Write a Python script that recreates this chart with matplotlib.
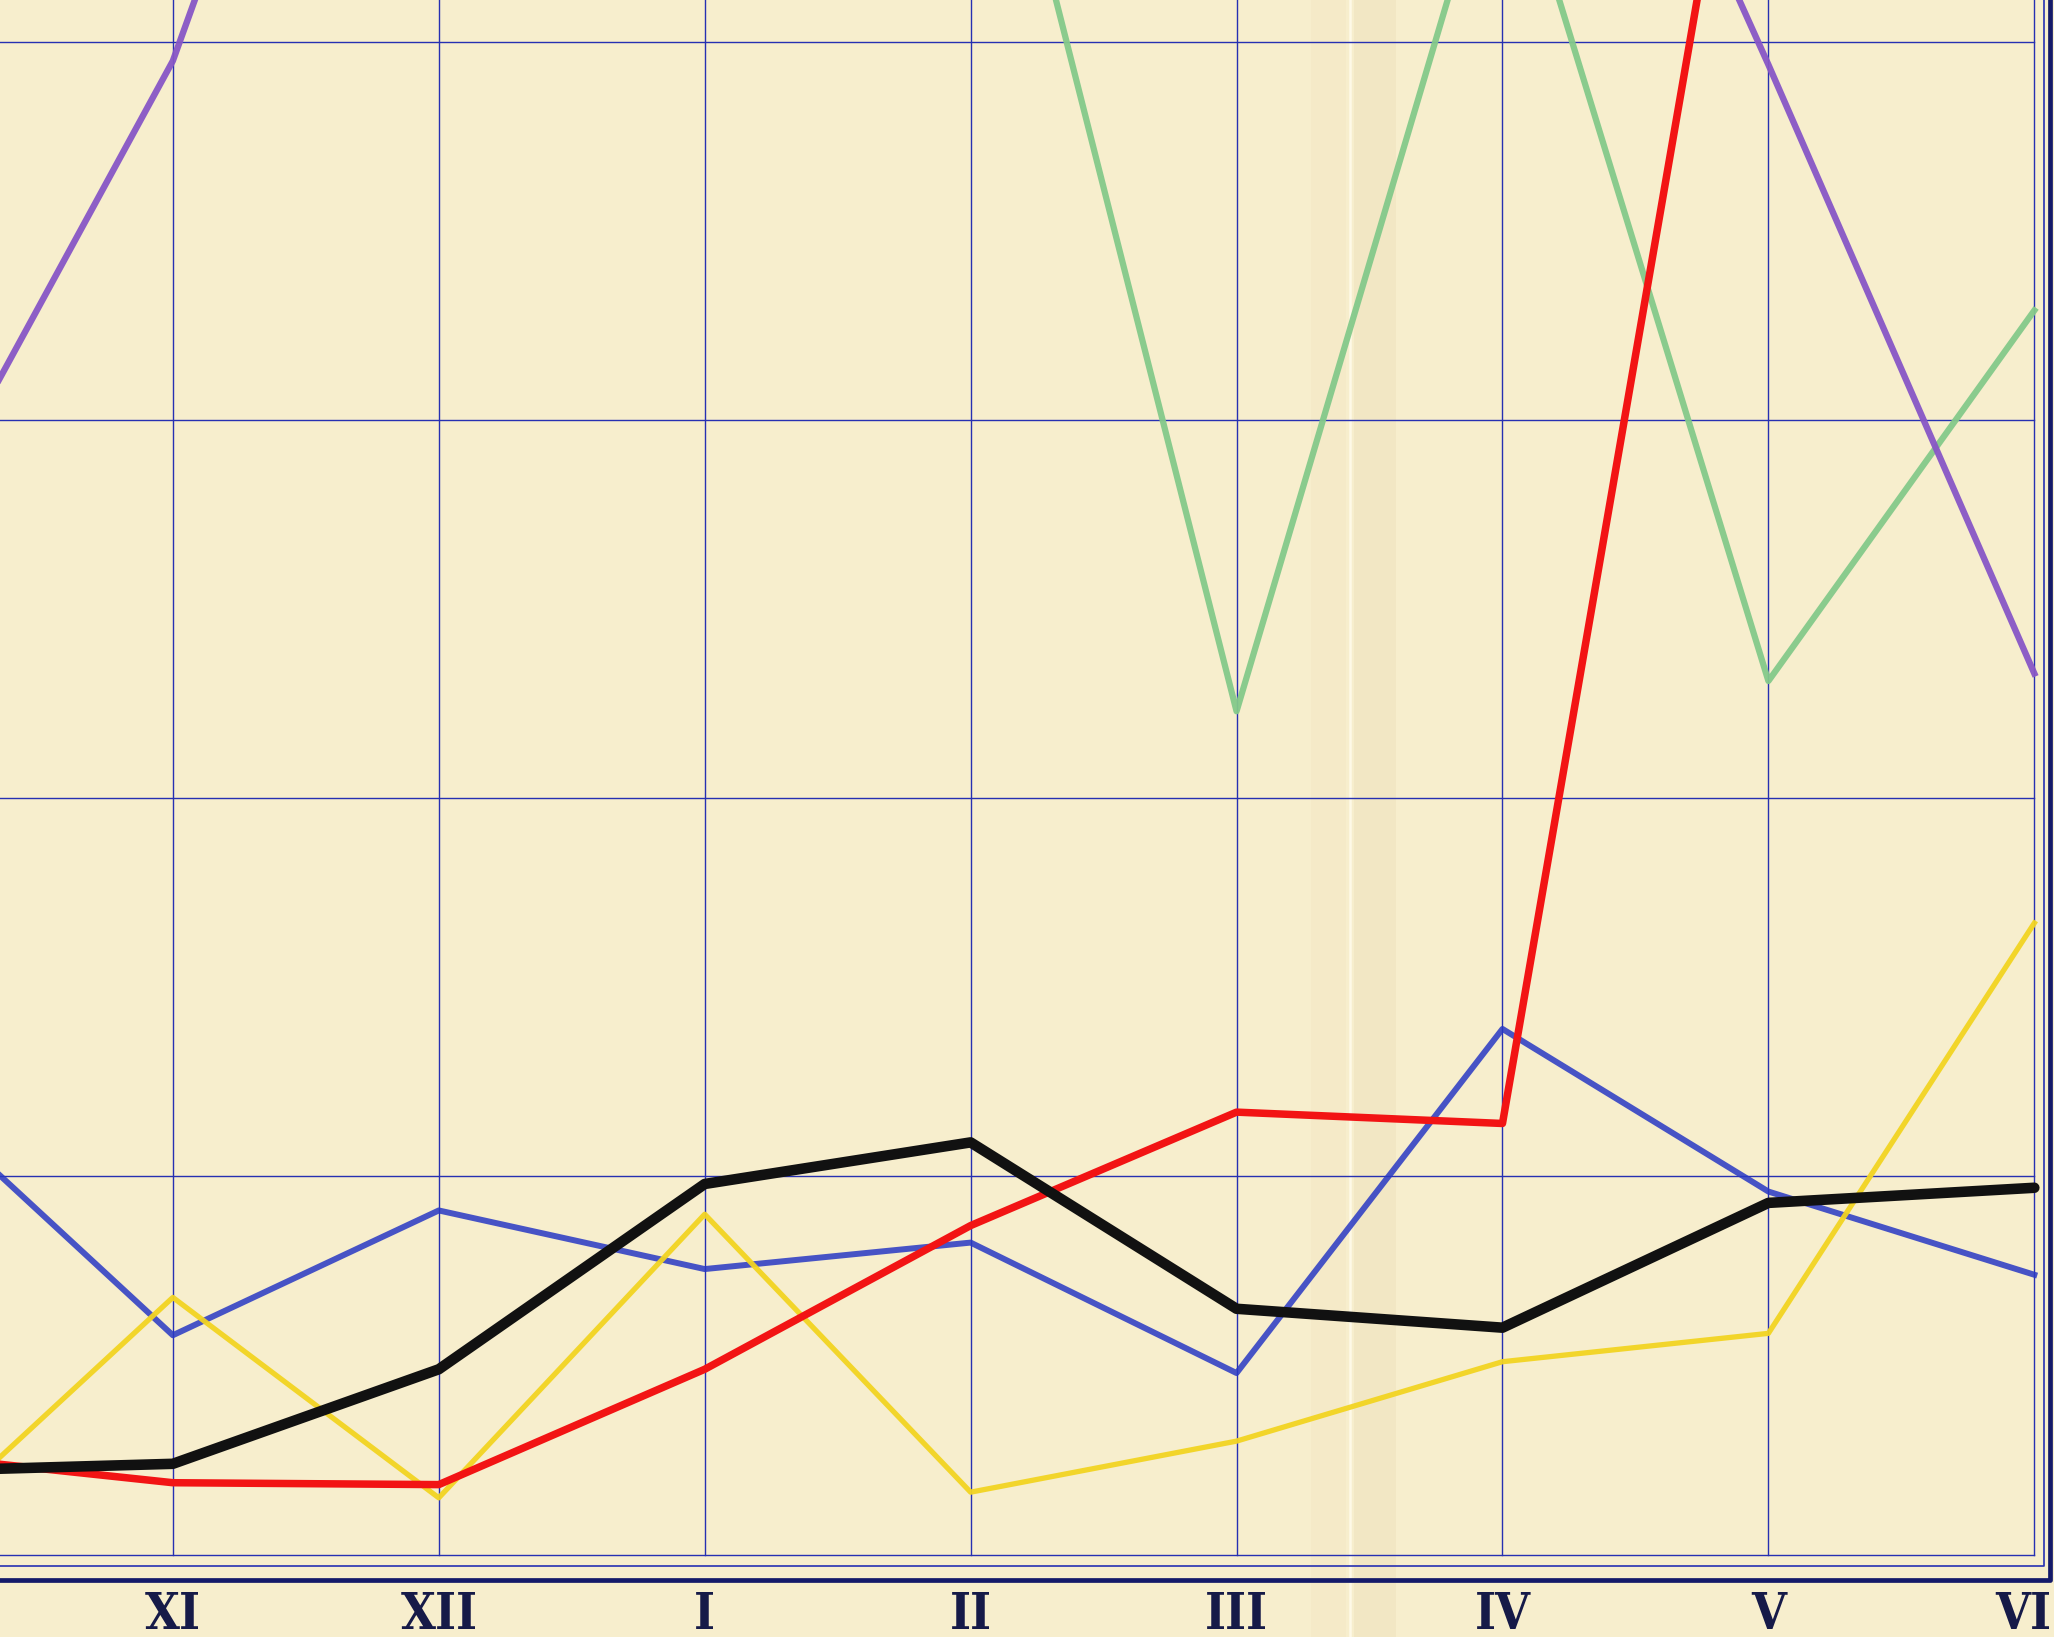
import numpy as np
import matplotlib
matplotlib.use("Agg")
from matplotlib import pyplot as plt
from matplotlib import font_manager

# months X .. VI ; X lies just left of the visible sheet
months = ['X', 'XI', 'XII', 'I', 'II', 'III', 'IV', 'V', 'VI']

# values in "grid units" (one grid square = 10), nan = off the sheet, unreadable
black  = [2.2, 2.4, 4.9, 9.8, 10.9, 6.5, 6.0, 9.3, 9.7]
red    = [2.65, 1.9, 1.85, 4.9, 8.7, 11.7, 11.4, 52.0, np.nan]
blue   = [12.3, 5.8, 9.1, 7.55, 8.25, 4.8, 13.9, 9.6, 7.4]
yellow = [0.3, 6.8, 1.5, 9.0, 1.65, 3.0, 5.1, 5.85, 16.7]
green  = [np.nan, np.nan, np.nan, np.nan, 50.0, 22.3, 46.0, 23.1, 32.9]
purple = [26.6, 39.5, 59.0, np.nan, np.nan, np.nan, 55.0, 39.4, 23.3]

grid_levels = [0, 10, 20, 30, 40]

paper = '#f7eecd'
ink = '#2630b2'

# narrowest installed face for the roman numerals
installed = {f.name for f in font_manager.fontManager.ttflist}
label_font = 'DejaVu Serif'
for cand in ['DejaVu Serif Condensed', 'Liberation Sans Narrow', 'DejaVu Sans Condensed']:
    if cand in installed:
        label_font = cand
        break

fig = plt.figure(figsize=(20.54, 16.37), dpi=100)
fig.patch.set_facecolor(paper)
ax = fig.add_axes([0, 0, 1, 1])
ax.set_facecolor(paper)
ax.axis('off')

x = np.arange(len(months))
ax.set_xlim(0.35, 8.074)
ax.set_ylim(-2.18, 41.11)
last = len(months) - 1

# fold in the paper
ax.axvspan(5.44, 5.60, color='#e4d2a4', alpha=0.22, lw=0, zorder=0)
ax.axvspan(5.28, 5.41, color='#ecdcb2', alpha=0.18, lw=0, zorder=0)
ax.axvline(5.425, color='#fffbea', lw=1.8, alpha=0.9, zorder=0.5)

# ruled grid
for lv in grid_levels:
    ax.plot([0.0, last], [lv, lv], color=ink, lw=1.0, zorder=1)
for i in range(1, last + 1):
    ax.plot([i, i], [0, 45], color=ink, lw=1.0, zorder=1)

# outer frame (thin + heavy rule)
ax.plot([0.0, 8.035, 8.035], [-0.31, -0.31, 45], color=ink, lw=1.2, zorder=1)
ax.plot([0.0, 8.06, 8.06], [-0.68, -0.68, 45], color='#141a6a', lw=3.4, zorder=1)

# series
ax.plot(x, green, color='#84c98a', lw=4.5, alpha=0.95, zorder=2)
ax.plot(x, purple, color='#8756c6', lw=4.6, alpha=0.95, zorder=2)
ax.plot(x, blue, color='#2838c4', lw=4.3, alpha=0.85, zorder=3)
ax.plot(x, yellow, color='#f2d421', lw=3.8, alpha=0.95, zorder=3)
ax.plot(x, red, color='#f21414', lw=5.4, zorder=4)
ax.plot(x, black, color='#111111', lw=7.6, zorder=5,
        solid_capstyle='round', solid_joinstyle='round')

# month labels
for i, m in enumerate(months):
    if i < 1:
        continue
    ax.text(i - (0.04 if i == last else 0), -1.62, m, ha='center', va='center',
            fontsize=36, fontweight='bold', fontstretch='condensed',
            color='#161a48', family=[label_font, 'DejaVu Sans'])

fig.savefig('out.png', dpi=100, facecolor=paper)
